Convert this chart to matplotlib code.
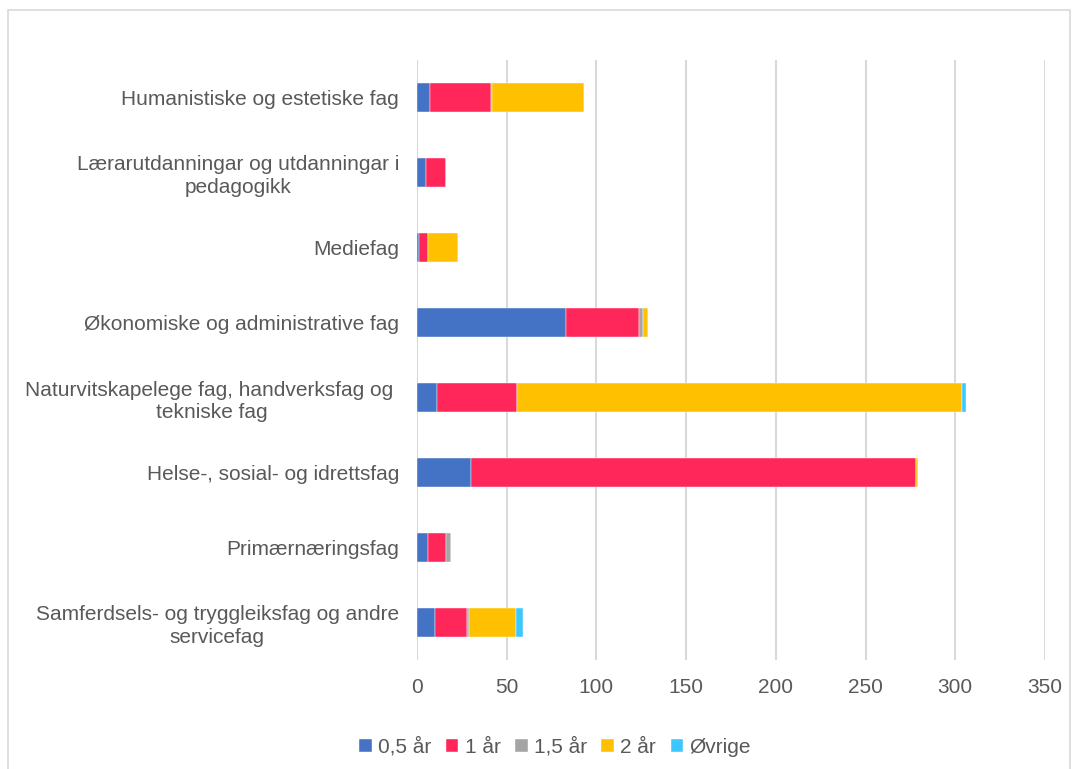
import numpy as np
import matplotlib
matplotlib.use("Agg")
import matplotlib.pyplot as plt
from matplotlib.patches import Rectangle

plt.rcParams['font.family'] = ['Liberation Sans', 'DejaVu Sans']

categories = [
    "Humanistiske og estetiske fag",
    "Lærarutdanningar og utdanningar i\npedagogikk",
    "Mediefag",
    "Økonomiske og administrative fag",
    "Naturvitskapelege fag, handverksfag og \ntekniske fag",
    "Helse-, sosial- og idrettsfag",
    "Primærnæringsfag",
    "Samferdsels- og tryggleiksfag og andre\nservicefag",
]

series_names = ["0,5 år", "1 år", "1,5 år", "2 år", "Øvrige"]
half_year = [7, 5, 1, 83, 11, 30, 6, 10]
one_year = [34, 11, 5, 41, 45, 248, 10, 18]
one_half_year = [1, 0, 0, 2, 0, 0, 3, 1]
two_year = [51, 0, 17, 3, 248, 1, 0, 26]
other = [0, 0, 0, 0, 2, 0, 0, 4]

colors = ["#4472C4", "#FF2659", "#A5A5A5", "#FFC000", "#3CC8FF"]
text_col = "#595959"
fs = 15

fig = plt.figure(figsize=(10.78, 7.69), dpi=100)
ax = fig.add_axes([417 / 1078, 1 - 660 / 769, (1045 - 417) / 1078, 600 / 769])

y = np.arange(len(categories))
left = np.zeros(len(categories))
for name, vals, c in zip(series_names, [half_year, one_year, one_half_year, two_year, other], colors):
    vals = np.array(vals, dtype=float)
    ax.barh(y, vals, left=left, height=0.39, color=c, label=name,
            edgecolor="white", linewidth=0.3, zorder=3)
    left += vals

ax.set_xlim(0, 350)
ax.set_ylim(len(categories) - 0.5, -0.5)
ax.set_xticks(np.arange(0, 351, 50))
ax.set_yticks(y)
ax.set_yticklabels(categories, multialignment="center", linespacing=1.25)
ax.tick_params(axis="both", length=0, labelsize=fs, colors=text_col)
ax.tick_params(axis="x", pad=13)
ax.tick_params(axis="y", pad=13)
ax.grid(axis="x", color="#D9D9D9", linewidth=1.5, zorder=0)
for s in ax.spines.values():
    s.set_visible(False)

leg = fig.legend(loc="center", bbox_to_anchor=(555 / 1078, 1 - 747 / 769), ncol=5,
                 frameon=False, fontsize=fs, handlelength=0.6, handleheight=0.6,
                 handletextpad=0.3, columnspacing=0.7)
for t in leg.get_texts():
    t.set_color(text_col)

fig.patches.append(Rectangle((8 / 1078, -0.01), 1062 / 1078, 1 - 10 / 769 + 0.01,
                             transform=fig.transFigure, fill=False,
                             edgecolor="#D9D9D9", linewidth=1.2))

fig.savefig("out.png", dpi=100)
